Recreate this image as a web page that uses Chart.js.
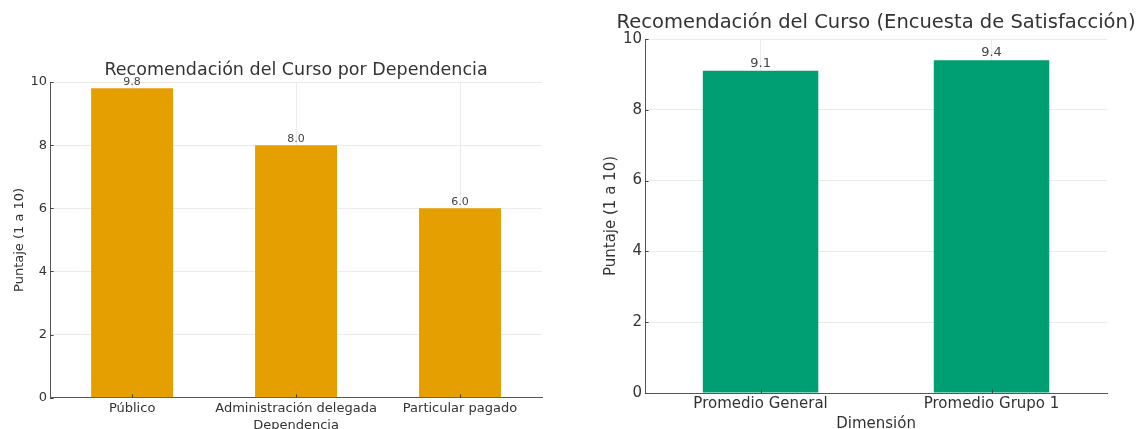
<!DOCTYPE html>
<html>
<head>
<meta charset="utf-8">
<script src="https://cdn.jsdelivr.net/npm/chart.js@4"></script>
<style>
  html, body { margin: 0; padding: 0; background: #fff; overflow: hidden; width: 1137px; height: 429px; position: relative; }
  .box { position: absolute; top: 0; }
  #leftBox { left: 0; width: 565px; height: 440px; }
  #rightBox { left: 585px; width: 552px; height: 440px; }
</style>
</head>
<body>
<div class="box" id="leftBox"><canvas id="leftChart" width="565" height="440"></canvas></div>
<div class="box" id="rightBox"><canvas id="rightChart" width="552" height="440"></canvas></div>
<script>
// left chart data
const dependencias = ['Público', 'Administración delegada', 'Particular pagado']
const puntajeDependencia = [9.8, 8.0, 6.0]

// right chart data
const dimensiones = ['Promedio General', 'Promedio Grupo 1']
const puntajeEncuesta = [9.1, 9.4]

const yTicks = [0, 2, 4, 6, 8, 10]

Chart.defaults.font.family = 'DejaVu Sans'
Chart.defaults.color = '#333'

// values above the bars, title centred over the plot, small inward tick marks
const extras = {
  id: 'extras',
  afterDraw(chart, args, opts) {
    const ctx = chart.ctx
    const area = chart.chartArea
    const xs = chart.scales.x
    const ys = chart.scales.y
    ctx.save()

    // tick marks pointing into the plot
    ctx.strokeStyle = '#444'
    ctx.lineWidth = 1
    ctx.beginPath()
    xs.ticks.forEach((t, i) => {
      const px = Math.round(xs.getPixelForTick(i)) + 0.5
      ctx.moveTo(px, area.bottom)
      ctx.lineTo(px, area.bottom - 3.5)
    })
    ys.ticks.forEach(t => {
      const py = Math.round(ys.getPixelForValue(t.value)) + 0.5
      ctx.moveTo(area.left, py)
      ctx.lineTo(area.left + 3.5, py)
    })
    ctx.stroke()

    // value labels
    ctx.font = opts.labelSize + 'px DejaVu Sans'
    ctx.fillStyle = '#444'
    ctx.textAlign = 'center'
    ctx.textBaseline = 'bottom'
    chart.getDatasetMeta(0).data.forEach((bar, i) => {
      const v = chart.data.datasets[0].data[i]
      ctx.fillText(v.toFixed(1), bar.x, bar.y - 1)
    })

    // title
    ctx.font = opts.titleSize + 'px DejaVu Sans'
    ctx.fillStyle = '#333'
    ctx.textBaseline = 'middle'
    ctx.fillText(opts.title, (area.left + area.right) / 2, opts.titleY)
    ctx.restore()
  }
}

function makeChart(id, labels, values, color, opt) {
  const ctx = document.getElementById(id).getContext('2d')
  return new Chart(ctx, {
    type: 'bar',
    data: {
      labels: labels,
      datasets: [{
        data: values,
        backgroundColor: color,
        categoryPercentage: 1,
        barPercentage: 0.5
      }]
    },
    plugins: [extras],
    options: {
      responsive: false,
      animation: false,
      layout: { padding: opt.padding },
      plugins: {
        legend: { display: false },
        tooltip: { enabled: false },
        title: { display: false },
        extras: { title: opt.title, titleSize: opt.titleSize, titleY: opt.titleY, labelSize: opt.labelSize }
      },
      scales: {
        x: {
          offset: true,
          grid: { offset: false, color: '#ebebeb', drawTicks: false },
          border: { color: '#555' },
          ticks: { font: { size: opt.tickSize }, color: '#333', padding: opt.xTickPad, maxRotation: 0, autoSkip: false },
          title: { display: true, text: opt.xTitle, color: '#333', font: { size: opt.tickSize }, padding: opt.xTitlePad }
        },
        y: {
          min: 0,
          max: 10,
          afterBuildTicks: axis => { axis.ticks = yTicks.map(v => ({ value: v })) },
          grid: { color: '#ebebeb', drawTicks: false },
          border: { color: '#555' },
          ticks: { font: { size: opt.tickSize }, color: '#333', padding: 3 },
          title: { display: true, text: 'Puntaje (1 a 10)', color: '#333', font: { size: opt.tickSize }, padding: 0 }
        }
      }
    }
  })
}

makeChart('leftChart', dependencias, puntajeDependencia, '#E69F00', {
  title: 'Recomendación del Curso por Dependencia',
  xTitle: 'Dependencia',
  titleSize: 17.5, titleY: 70, tickSize: 13, labelSize: 11, xTickPad: 3,
  xTitlePad: { top: -2, bottom: 2 },
  padding: { left: 12, right: 23, top: 82, bottom: 5 }
})

makeChart('rightChart', dimensiones, puntajeEncuesta, '#009E73', {
  title: 'Recomendación del Curso (Encuesta de Satisfacción)',
  xTitle: 'Dimensión',
  titleSize: 19.5, titleY: 23, tickSize: 15, labelSize: 13, xTickPad: 2,
  xTitlePad: 0,
  padding: { left: 17, right: 30, top: 39, bottom: 7 }
})
</script>
</body>
</html>
